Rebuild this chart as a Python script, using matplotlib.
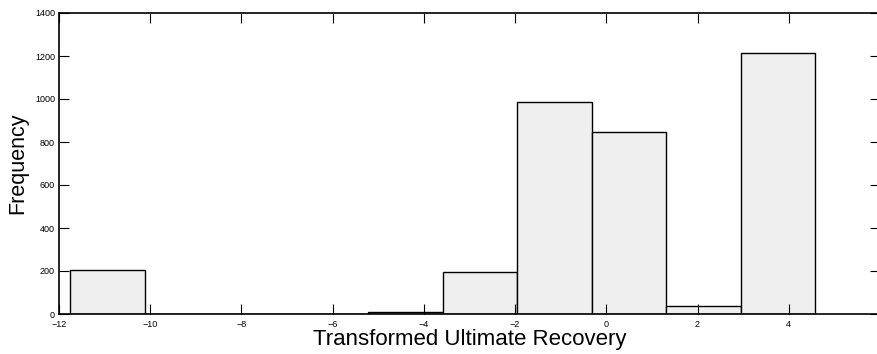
import numpy as np
import matplotlib
matplotlib.use("Agg")
import matplotlib.pyplot as plt

plt.rcParams['font.family'] = ['Liberation Sans', 'DejaVu Sans']

# Histogram data (10 equal-width bins)
bin_min = -11.75
bin_max = 4.58
counts = [205, 2, 1, 1, 8, 197, 984, 848, 37, 1214]
x_ticks = [-12, -10, -8, -6, -4, -2, 0, 2, 4]
y_ticks = [0, 200, 400, 600, 800, 1000, 1200, 1400]

edges = np.linspace(bin_min, bin_max, len(counts) + 1)

W, H = 877, 354
fig = plt.figure(figsize=(W / 100, H / 100), dpi=100)
left, right_px, top, bottom = 59, 880, 13, 314
ax = fig.add_axes([left / W, 1 - bottom / H, (right_px - left) / W, (bottom - top) / H])

ax.bar(edges[:-1], counts, width=np.diff(edges), align='edge',
       facecolor='#efefef', edgecolor='black', linewidth=1.0)

ax.set_xlim(-12, 6)
ax.set_ylim(0, 1400)
ax.set_xticks(x_ticks)
ax.set_yticks(y_ticks)
ax.set_xticklabels([f"\u2212{abs(v)}" if v < 0 else str(v) for v in x_ticks])
ax.tick_params(direction='in', length=7, width=0.8, labelsize=6.5,
               top=True, right=True, colors='black')
ax.tick_params(axis='x', pad=4)
ax.tick_params(axis='y', pad=3)
for s in ax.spines.values():
    s.set_linewidth(1.2)

ax.set_xlabel('Transformed Ultimate Recovery', fontsize=16, labelpad=0)
ax.set_ylabel('Frequency', fontsize=15.5, labelpad=5)

fig.savefig('out.png', dpi=100)
